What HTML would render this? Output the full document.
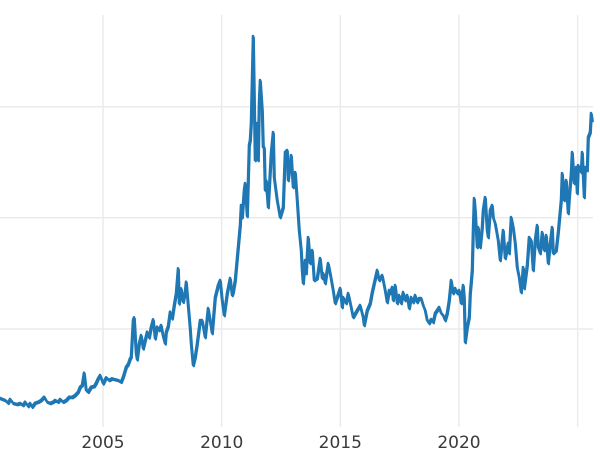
<!DOCTYPE html>
<html>
<head>
<meta charset="utf-8">
<style>
html,body{margin:0;padding:0;background:#fff;}
svg{display:block;}
</style>
</head>
<body>
<svg width="600" height="450" viewBox="0 0 600 450" xmlns="http://www.w3.org/2000/svg">
<rect width="600" height="450" fill="#ffffff"/>
<g stroke="#ebebeb" stroke-width="1.5" fill="none">
<line x1="0" y1="106.7" x2="593" y2="106.7"/>
<line x1="0" y1="217.7" x2="593" y2="217.7"/>
<line x1="0" y1="329" x2="593" y2="329"/>
<line x1="103" y1="15" x2="103" y2="427"/>
<line x1="221.7" y1="15" x2="221.7" y2="427"/>
<line x1="340.3" y1="15" x2="340.3" y2="427"/>
<line x1="459" y1="15" x2="459" y2="427"/>
<line x1="577.7" y1="15" x2="577.7" y2="427"/>
</g>
<defs>
<polyline id="s" fill="none" stroke-linejoin="round" stroke-linecap="round" points="0,398 5,400 8,402.7 10,399 13,403 17,404 20,403 23,405 25,401.7 28,406 30,403 32,406.7 35,402.7 38,401.7 41,400 44,396.7 47,401.7 50,403 53,401.7 55,400 58,401.7 60,399 63,401.7 66,400 69,396.7 72,397 75,395 78,391.7 80,386.7 82,385 84,372.7 86,390 88,391.7 91,386.7 94,386 96,382.7 98,378.3 100,375 103,383.3 106,377.3 109,380 112,378.3 115,379.3 118,380 121,381.7 123,376.7 126,366.7 128,364 130,358.3 131,356.7 133,320 134,317.3 136,353.3 137,359.3 139,343.3 141,335 143,348.3 145,340 147,331.7 149,337.3 151,326.7 153,319.3 155,338.3 157,326.7 159,330 161,325 163,336 165,343.3 166,331.7 168,326 170,311.7 172,318.3 174,305 176,293.3 178,268.3 179,303.3 181,288.3 183,301.7 185,291.7 186,281.7 188,305 190,328.3 191,343.3 193,365 195,356.7 197,343.3 200,320 202,320 205,337 208,308 212,333 215,297 218,285 220,280 222,300 224,315 227,293 230,278 232,295 233,292 235,280 237,258 240,225 241,205 242,217 244,190 245,183 247,216 249,145 250,140 251,123 253,36 255,160 257,123 258,160 259,103 260,80 262,110 263,147 264,147 265,190 266,180 268,207 271,153 273,132 274,177 277,200 280,217 283,207 285,152 287,150 288,180 291,155 293,187 295,172 297,200 298,215 299,230 300,240 301,250 302,270 303,283 305,260 306,273 308,237 310,263 312,250 314,280 317,278 320,258 322,278 323,273 325,283 328,263 330,273 333,290 335,303 337,297 340,288 342,307 343,297 346,303 348,293 351,307 353,317 357,310 360,305 363,317 364,325 367,310 370,303 372,292 374,283 377,270 379,280 382,275 385,290 387,302 389,290 390,293 392,287 393,300 395,285 397,303 399,295 401,303 403,292 405,300 407,295 409,308 411,297 413,302 415,295 417,302 419,298 421,298 423,305 425,310 427,320 429,323 431,319 433,322 435,313 437,310 439,307 441,313 443,315 445,320 447,313 449,300 451,280 453,293 455,288 457,293 459,290 461,303 463,285 464,297 465,342 467,327 469,317 470,293 471,282 472,270 473,230 474,198 475,210 477,247 478,227 480,247 482,227 483,210 485,197 487,230 488,237 490,210 492,205 493,217 495,223 498,240 500,260 502,240 503,230 505,258 508,243 509,253 511,217 513,227 515,243 517,267 519,277 521,292 523,267 524,288 527,265 529,237 531,240 533,270 535,240 537,225 538,247 540,253 542,232 544,250 546,235 548,263 550,243 552,227 553,253 556,250 558,232 561,200 562,173 564,200 566,180 568,213 569,198 571,173 572,152 574,183 576,167 577,193 578,165 581,172 582,152 584,197 585,167 587,170 588,137 590,132 591,113 592,120"/>
</defs>
<use href="#s" stroke="#1f77b4" stroke-width="2.2" transform="translate(0.8,1.3)"/>
<use href="#s" stroke="#1f77b4" stroke-width="2.6"/>
<g font-family="'DejaVu Sans','Liberation Sans',sans-serif" font-size="17" fill="#3a3a3a" text-anchor="middle">
<text x="103" y="448">2005</text>
<text x="221.7" y="448">2010</text>
<text x="340.3" y="448">2015</text>
<text x="459" y="448">2020</text>
</g>
</svg>
</body>
</html>
